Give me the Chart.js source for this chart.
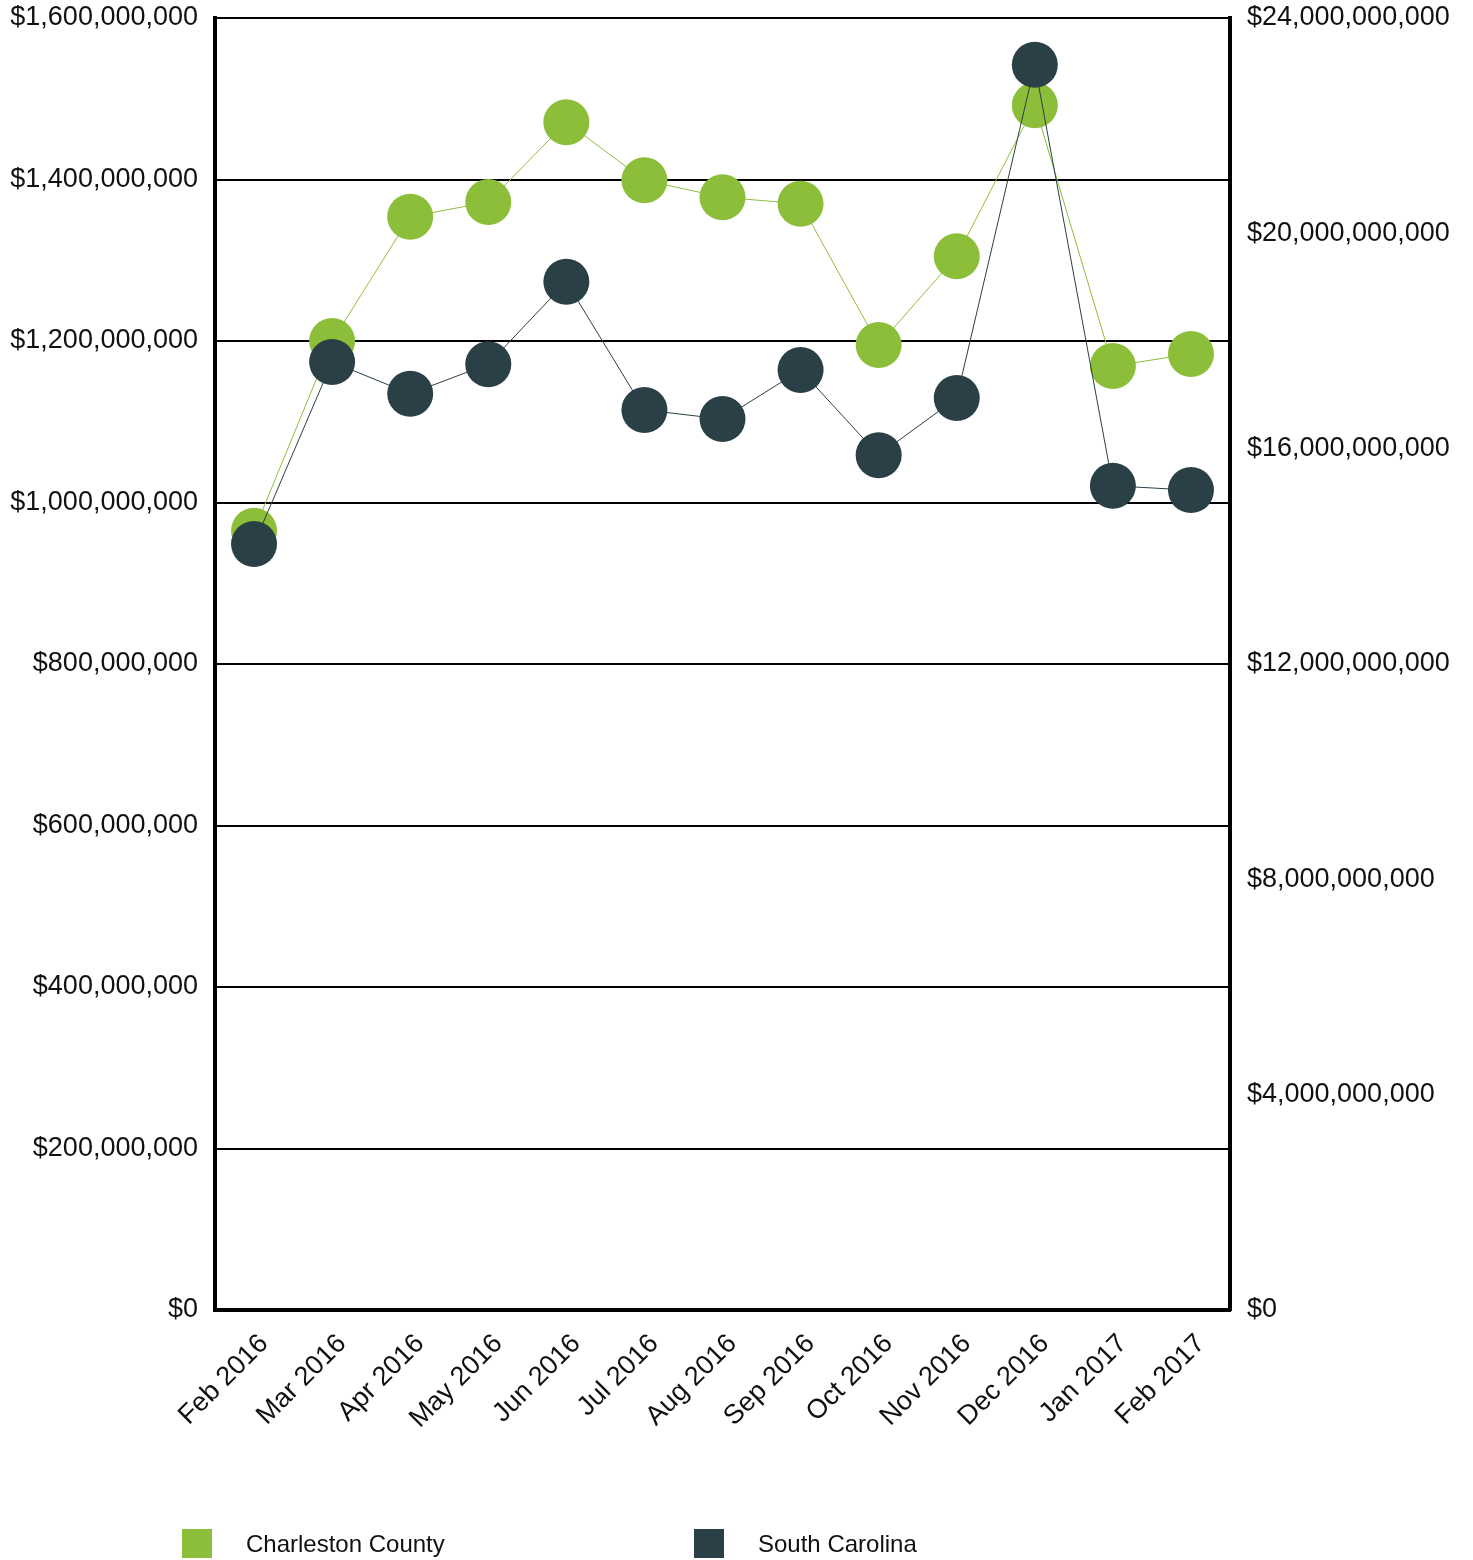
<!DOCTYPE html>
<html>
<head>
<meta charset="utf-8">
<script src="https://cdn.jsdelivr.net/npm/chart.js@4/dist/chart.umd.min.js"></script>
<style>
  html, body { margin: 0; padding: 0; background: #fff; }
  #wrap { position: relative; width: 1473px; height: 1560px; }
</style>
</head>
<body>
<div id="wrap"><canvas id="c" width="1473" height="1560"></canvas></div>
<script>
const categories = ['Feb 2016','Mar 2016','Apr 2016','May 2016','Jun 2016','Jul 2016','Aug 2016','Sep 2016','Oct 2016','Nov 2016','Dec 2016','Jan 2017','Feb 2017'];
const charlestonValues = [965e6, 1200e6, 1354e6, 1372e6, 1471e6, 1399e6, 1378e6, 1370e6, 1195e6, 1305e6, 1492e6, 1169e6, 1184e6];
const southCarolinaValues = [14.23e9, 17.61e9, 17.02e9, 17.57e9, 19.10e9, 16.72e9, 16.55e9, 17.46e9, 15.88e9, 16.94e9, 23.13e9, 15.31e9, 15.23e9];
const seriesNames = ['Charleston County', 'South Carolina'];
const seriesColors = ['#8DBE3A', '#2B3F47'];
const leftTicks = { min: 0, max: 1.6e9, step: 2e8 };
const rightTicks = { min: 0, max: 24e9, step: 4e9 };

const FONT = "'Liberation Sans', Arial, sans-serif";
const money = v => '$' + Number(v).toLocaleString('en-US');

const legendPlugin = {
  id: 'customLegend',
  afterDraw(chart) {
    const ctx = chart.ctx;
    const xs = [182, 694];
    ctx.save();
    ctx.font = '24px ' + FONT;
    ctx.textBaseline = 'middle';
    ctx.textAlign = 'left';
    chart.data.datasets.forEach((ds, i) => {
      ctx.fillStyle = ds.backgroundColor;
      ctx.fillRect(xs[i], 1529, 30, 29);
      ctx.fillStyle = '#111';
      ctx.fillText(ds.label, xs[i] + 64, 1545);
    });
    ctx.restore();
  }
};

new Chart(document.getElementById('c'), {
  type: 'line',
  data: {
    labels: categories,
    datasets: [
      {
        label: seriesNames[0],
        data: charlestonValues,
        yAxisID: 'yL',
        borderColor: seriesColors[0],
        backgroundColor: seriesColors[0],
        pointBackgroundColor: seriesColors[0],
        borderWidth: 1,
        pointRadius: 23,
        pointBorderWidth: 0,
        pointHoverRadius: 23,
        tension: 0,
        clip: false,
        order: 2
      },
      {
        label: seriesNames[1],
        data: southCarolinaValues,
        yAxisID: 'yR',
        borderColor: seriesColors[1],
        backgroundColor: seriesColors[1],
        pointBackgroundColor: seriesColors[1],
        borderWidth: 1,
        pointRadius: 23,
        pointBorderWidth: 0,
        pointHoverRadius: 23,
        tension: 0,
        clip: false,
        order: 1
      }
    ]
  },
  options: {
    responsive: false,
    animation: false,
    events: [],
    layout: { autoPadding: false, padding: { top: 18, left: 0, right: 0, bottom: 0 } },
    plugins: { legend: { display: false }, tooltip: { enabled: false } },
    scales: {
      x: {
        offset: true,
        grid: { display: false, drawTicks: false },
        border: { display: true, color: '#000', width: 4 },
        ticks: {
          color: '#111',
          font: { family: FONT, size: 27 },
          minRotation: 45, maxRotation: 45,
          autoSkip: false,
          padding: 18,
          labelOffset: 10
        },
        afterFit(s) { s.height = 250; s.paddingLeft = 0; s.paddingRight = 0; s.paddingTop = 0; }
      },
      yL: {
        position: 'left',
        min: leftTicks.min, max: leftTicks.max,
        ticks: {
          stepSize: leftTicks.step,
          color: '#111',
          font: { family: FONT, size: 27, lineHeight: 1 },
          padding: 0,
          callback: v => money(v)
        },
        grid: { color: '#000', lineWidth: 2, drawTicks: true, tickLength: 17, tickColor: 'rgba(0,0,0,0)' },
        border: { display: true, color: '#000', width: 4 },
        afterFit(s) { s.width = 215; s.paddingTop = 0; s.paddingBottom = 0; }
      },
      yR: {
        position: 'right',
        min: rightTicks.min, max: rightTicks.max,
        ticks: {
          stepSize: rightTicks.step,
          color: '#111',
          font: { family: FONT, size: 27, lineHeight: 1 },
          padding: 0,
          callback: v => money(v)
        },
        grid: { display: false, drawTicks: true, tickLength: 17, tickColor: 'rgba(0,0,0,0)' },
        border: { display: true, color: '#000', width: 4 },
        afterFit(s) { s.width = 243; s.paddingTop = 0; s.paddingBottom = 0; }
      }
    }
  },
  plugins: [legendPlugin]
});
</script>
</body>
</html>
